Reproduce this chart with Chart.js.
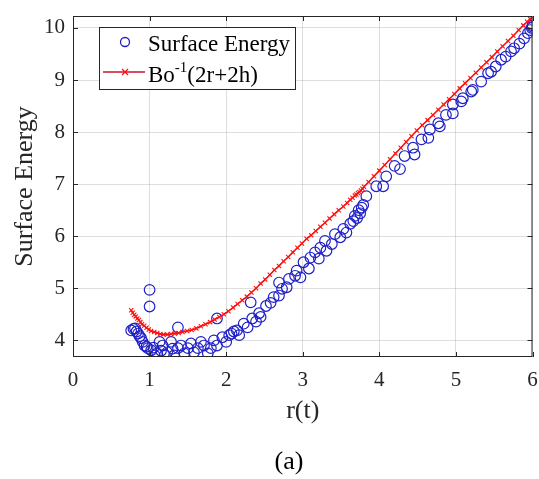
<!DOCTYPE html>
<html>
<head>
<meta charset="utf-8">
<script src="https://cdn.jsdelivr.net/npm/chart.js@4.4.1/dist/chart.umd.min.js"></script>
<style>
  html, body { margin: 0; padding: 0; background: #fff; }
  #wrap { width: 539px; height: 479px; }
</style>
</head>
<body>
<div id="wrap"><canvas id="energyChart" width="539" height="479"></canvas></div>
<script>
// tick labels
const xTicks = [0, 1, 2, 3, 4, 5, 6];
const yTicks = [4, 5, 6, 7, 8, 9, 10];

// Surface Energy (blue circles)
const energyR = [0.76, 0.79, 0.81, 0.83, 0.85, 0.87, 0.89, 0.91, 0.935, 0.96, 0.975, 1.00, 1.00, 1.02, 1.05, 1.065, 1.10, 1.13, 1.15, 1.17,
  1.20, 1.23, 1.28, 1.30, 1.32, 1.37, 1.37, 1.41, 1.455, 1.50, 1.54, 1.58, 1.63, 1.67, 1.71, 1.76, 1.80, 1.84, 1.88, 1.88,
  1.95, 2.00, 2.04, 2.07, 2.10, 2.14, 2.17, 2.23, 2.28, 2.32, 2.34, 2.39, 2.43, 2.45, 2.52, 2.58, 2.62, 2.69, 2.69, 2.73,
  2.79, 2.82, 2.90, 2.92, 2.97, 3.01, 3.08, 3.10, 3.16, 3.21, 3.23, 3.29, 3.31, 3.38, 3.42, 3.49, 3.53, 3.57, 3.62, 3.66,
  3.68, 3.71, 3.73, 3.75, 3.77, 3.79, 3.83, 3.96, 4.05, 4.09, 4.20, 4.27, 4.33, 4.44, 4.46, 4.55, 4.64, 4.66, 4.77, 4.79,
  4.87, 4.96, 4.96, 5.07, 5.09, 5.20, 5.22, 5.33, 5.42, 5.46, 5.52, 5.59, 5.65, 5.72, 5.76, 5.83, 5.89, 5.94, 5.97, 5.99, 6.00, 6.00];
const energyY = [4.19, 4.22, 4.23, 4.17, 4.13, 4.08, 4.04, 3.97, 3.90, 3.88, 3.85, 4.97, 4.65, 3.81, 3.86, 3.71, 3.75, 3.97, 3.80, 3.90,
  3.72, 3.77, 3.97, 3.84, 3.71, 4.25, 3.85, 3.90, 3.75, 3.85, 3.94, 3.77, 3.85, 3.97, 3.90, 3.75, 3.85, 4.00, 4.42, 3.90,
  4.06, 3.97, 4.10, 4.13, 4.17, 4.19, 4.10, 4.32, 4.25, 4.73, 4.42, 4.36, 4.52, 4.45, 4.66, 4.72, 4.83, 4.86, 5.11, 4.99,
  5.02, 5.18, 5.24, 5.34, 5.21, 5.50, 5.38, 5.59, 5.69, 5.57, 5.78, 5.91, 5.72, 5.85, 6.04, 5.98, 6.14, 6.07, 6.24, 6.29,
  6.39, 6.35, 6.50, 6.44, 6.55, 6.60, 6.77, 6.96, 6.96, 7.15, 7.35, 7.29, 7.54, 7.70, 7.57, 7.86, 7.89, 8.05, 8.17, 8.11,
  8.33, 8.36, 8.53, 8.59, 8.65, 8.78, 8.81, 8.97, 9.13, 9.16, 9.26, 9.39, 9.45, 9.55, 9.61, 9.70, 9.80, 9.90, 9.96, 10.00, 10.02, 10.05];

// Bo^-1(2r+2h) (red line with x markers)
const boR = [0.76, 0.78, 0.80, 0.82, 0.84, 0.86, 0.88, 0.90, 0.93, 0.96, 0.99, 1.02, 1.06, 1.10, 1.14, 1.18, 1.23, 1.28, 1.33, 1.38,
  1.43, 1.49, 1.55, 1.61, 1.67, 1.73, 1.79, 1.85, 1.91, 1.97, 2.03, 2.09, 2.15, 2.21, 2.27, 2.33, 2.39, 2.45, 2.51, 2.57,
  2.63, 2.69, 2.75, 2.81, 2.87, 2.93, 2.99, 3.05, 3.11, 3.17, 3.23, 3.29, 3.35, 3.41, 3.47, 3.53, 3.58, 3.62, 3.65, 3.68,
  3.70, 3.72, 3.74, 3.76, 3.78, 3.80, 3.86, 3.93, 4.00, 4.07, 4.14, 4.21, 4.28, 4.35, 4.42, 4.49, 4.56, 4.63, 4.70, 4.77,
  4.84, 4.91, 4.98, 5.05, 5.12, 5.19, 5.26, 5.33, 5.40, 5.47, 5.54, 5.61, 5.68, 5.75, 5.82, 5.88, 5.93, 5.97, 6.00];
const boY = [4.58, 4.53, 4.49, 4.46, 4.42, 4.39, 4.35, 4.31, 4.28, 4.24, 4.21, 4.18, 4.16, 4.14, 4.12, 4.11, 4.11, 4.12, 4.13, 4.14,
  4.16, 4.18, 4.20, 4.23, 4.27, 4.31, 4.35, 4.40, 4.45, 4.50, 4.56, 4.63, 4.70, 4.77, 4.84, 4.92, 5.00, 5.09, 5.17, 5.26,
  5.35, 5.43, 5.52, 5.60, 5.69, 5.78, 5.86, 5.95, 6.02, 6.10, 6.18, 6.26, 6.34, 6.42, 6.50, 6.57, 6.64, 6.70, 6.74, 6.78,
  6.80, 6.83, 6.85, 6.88, 6.91, 6.95, 7.04, 7.15, 7.26, 7.37, 7.48, 7.59, 7.70, 7.81, 7.92, 8.03, 8.13, 8.23, 8.33, 8.43,
  8.53, 8.63, 8.73, 8.84, 8.94, 9.04, 9.14, 9.24, 9.34, 9.44, 9.55, 9.65, 9.75, 9.85, 9.96, 10.05, 10.12, 10.17, 10.22];

const serif = '"Liberation Serif", "DejaVu Serif", serif';
const blue = '#2020c8';
const red = '#ff1010';

function toPoints(xs, ys) {
  return xs.map((x, i) => ({ x: x, y: ys[i] }));
}

// box round the plot, ticks pointing inwards, the legend inside the plot and the "(a)" caption
const framePlugin = {
  id: 'frame',
  afterDraw(chart) {
    const ctx = chart.ctx;
    const a = chart.chartArea;
    const xs = chart.scales.x;
    const ys = chart.scales.y;
    ctx.save();
    ctx.strokeStyle = '#262626';
    ctx.lineWidth = 1;
    ctx.strokeRect(a.left + 0.5, a.top + 0.5, a.right - a.left - 1, a.bottom - a.top - 1);
    ctx.beginPath();
    xTicks.forEach(v => {
      const px = Math.round(xs.getPixelForValue(v)) + 0.5;
      ctx.moveTo(px, a.bottom); ctx.lineTo(px, a.bottom - 5);
      ctx.moveTo(px, a.top); ctx.lineTo(px, a.top + 5);
    });
    yTicks.forEach(v => {
      const py = Math.round(ys.getPixelForValue(v)) + 0.5;
      ctx.moveTo(a.left, py); ctx.lineTo(a.left + 5, py);
      ctx.moveTo(a.right, py); ctx.lineTo(a.right - 5, py);
    });
    ctx.stroke();

    // legend
    const lx = a.left + 26, ly = a.top + 11, lw = 196, lh = 62;
    ctx.fillStyle = '#fff';
    ctx.fillRect(lx, ly, lw, lh);
    ctx.strokeStyle = '#262626';
    ctx.strokeRect(lx + 0.5, ly + 0.5, lw, lh);

    ctx.strokeStyle = blue;
    ctx.lineWidth = 1.3;
    ctx.beginPath();
    ctx.arc(lx + 26, ly + 15, 4.5, 0, Math.PI * 2);
    ctx.stroke();

    ctx.strokeStyle = '#c8102e';
    ctx.lineWidth = 1.3;
    ctx.beginPath();
    ctx.moveTo(lx + 4, ly + 45); ctx.lineTo(lx + 46, ly + 45);
    ctx.stroke();
    ctx.strokeStyle = red;
    ctx.beginPath();
    ctx.moveTo(lx + 23, ly + 42); ctx.lineTo(lx + 29, ly + 48);
    ctx.moveTo(lx + 29, ly + 42); ctx.lineTo(lx + 23, ly + 48);
    ctx.stroke();

    ctx.fillStyle = '#000';
    ctx.textBaseline = 'alphabetic';
    ctx.textAlign = 'left';
    ctx.font = '23px ' + serif;
    ctx.fillText('Surface Energy', lx + 49, ly + 24);
    let tx = lx + 49;
    ctx.fillText('Bo', tx, ly + 55);
    tx += ctx.measureText('Bo').width;
    ctx.font = '15px ' + serif;
    ctx.fillText('-1', tx, ly + 45);
    tx += ctx.measureText('-1').width;
    ctx.font = '23px ' + serif;
    ctx.fillText('(2r+2h)', tx, ly + 55);

    // caption
    ctx.font = '26px ' + serif;
    ctx.textAlign = 'center';
    ctx.textBaseline = 'middle';
    ctx.fillText('(a)', 289, 462);
    ctx.restore();
  }
};

const ctx = document.querySelector('#energyChart').getContext('2d');
const energyChart = new Chart(ctx, {
  type: 'scatter',
  data: {
    datasets: [{
      label: 'Surface Energy',
      data: toPoints(energyR, energyY),
      pointStyle: 'circle',
      pointRadius: 5.3,
      pointBorderWidth: 1.2,
      pointBorderColor: blue,
      pointBackgroundColor: 'rgba(0,0,0,0)',
      showLine: false,
      order: 1
    }, {
      label: 'Bo-1(2r+2h)',
      data: toPoints(boR, boY),
      pointStyle: 'crossRot',
      pointRadius: 3,
      pointBorderWidth: 1.1,
      pointBorderColor: red,
      borderColor: red,
      borderWidth: 1.5,
      showLine: true,
      order: 0
    }]
  },
  options: {
    responsive: false,
    animation: false,
    layout: { padding: { top: 16, right: 1, left: 0, bottom: 52 } },
    scales: {
      x: {
        type: 'linear',
        min: 0,
        max: 6,
        afterBuildTicks: scale => { scale.ticks = xTicks.map(v => ({ value: v })); },
        afterFit: scale => { scale.height = 70; scale.paddingLeft = 0; scale.paddingRight = 0; },
        grid: { color: 'rgba(0,0,0,0.13)', drawTicks: false },
        border: { display: false },
        ticks: { padding: 11, color: '#262626', font: { family: serif, size: 21 } },
        title: { display: true, text: 'r(t)', color: '#262626', padding: { top: 2, bottom: 0 }, font: { family: serif, size: 26 } }
      },
      y: {
        type: 'linear',
        min: 3.68,
        max: 10.23,
        afterBuildTicks: scale => { scale.ticks = yTicks.map(v => ({ value: v })); },
        afterFit: scale => { scale.width = 73; scale.paddingTop = 0; scale.paddingBottom = 0; },
        grid: { color: 'rgba(0,0,0,0.13)', drawTicks: false },
        border: { display: false },
        ticks: { padding: 8, color: '#262626', font: { family: serif, size: 21 } },
        title: { display: true, text: 'Surface Energy', color: '#262626', padding: { top: 10, bottom: 0 }, font: { family: serif, size: 26 } }
      }
    },
    plugins: {
      legend: { display: false },
      tooltip: { enabled: false },
      title: { display: false }
    }
  },
  plugins: [framePlugin]
});
</script>
</body>
</html>
